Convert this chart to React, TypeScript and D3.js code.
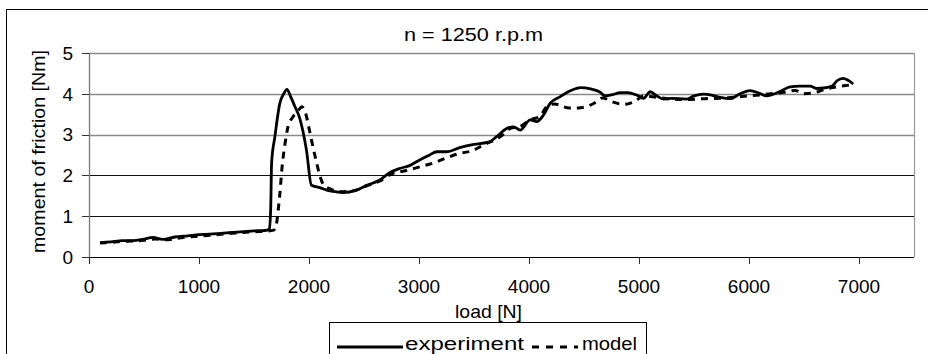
import React from "react";
import * as d3 from "d3";

const expLoad = [100,200,300,400,500,580,670,780,900,1000,1100,1200,1300,1400,1500,1600,1640,1652,1660,1690,1735,1770,1800,1830,1870,1916,1977,2022,2100,2160,2240,2310,2430,2520,2640,2730,2825,2915,3006,3097,3160,3250,3370,3500,3640,3705,3797,3860,3920,4011,4070,4132,4193,4284,4380,4470,4560,4640,4693,4760,4829,4900,4977,5041,5102,5160,5222,5300,5430,5500,5586,5660,5740,5828,5920,6010,6090,6158,6276,6373,6460,6555,6615,6700,6760,6800,6857,6900,6948];
const expMoment = [0.35,0.37,0.40,0.40,0.44,0.48,0.43,0.49,0.52,0.55,0.56,0.58,0.60,0.62,0.64,0.65,0.68,1.20,2.30,2.95,3.77,4.00,4.11,3.95,3.70,3.40,2.62,1.76,1.70,1.64,1.60,1.58,1.64,1.75,1.88,2.06,2.17,2.24,2.38,2.50,2.58,2.58,2.68,2.76,2.82,2.95,3.15,3.19,3.11,3.36,3.32,3.48,3.77,3.93,4.08,4.15,4.12,4.05,3.95,3.98,4.03,4.03,3.97,3.89,4.05,3.95,3.87,3.89,3.87,3.95,3.99,3.97,3.91,3.88,4.00,4.08,4.02,3.95,4.05,4.17,4.19,4.19,4.13,4.15,4.20,4.32,4.38,4.33,4.24];

const modelLoad = [100,200,300,400,500,600,700,800,900,1000,1100,1200,1300,1400,1500,1600,1680,1700,1718,1735,1755,1780,1810,1850,1900,1935,1965,2007,2040,2070,2100,2130,2200,2300,2400,2520,2640,2762,2885,3006,3127,3279,3370,3480,3590,3740,3830,3920,4010,4100,4160,4230,4370,4470,4580,4670,4760,4860,4950,5050,5150,5250,5400,5600,5800,6000,6200,6320,6420,6500,6600,6700,6800,6930];
const modelMoment = [0.34,0.36,0.38,0.39,0.41,0.44,0.42,0.46,0.49,0.51,0.53,0.56,0.58,0.60,0.62,0.63,0.66,0.75,1.10,1.55,2.20,2.74,3.20,3.42,3.58,3.68,3.56,3.07,2.65,2.30,1.98,1.78,1.66,1.60,1.62,1.74,1.86,2.05,2.12,2.21,2.30,2.46,2.54,2.60,2.75,2.95,3.15,3.20,3.36,3.45,3.68,3.75,3.65,3.66,3.75,3.90,3.80,3.74,3.80,3.95,3.92,3.88,3.86,3.88,3.90,3.95,4.00,4.04,4.08,4.00,4.03,4.12,4.17,4.22];

const xTicks = [0,1000,2000,3000,4000,5000,6000,7000];
const yTicks = [0,1,2,3,4,5];
const title = "n = 1250 r.p.m";
const xLabel = "load [N]";
const yLabel = "moment of friction [Nm]";
const seriesNames = ["experiment", "model"];

const FONT = "'Liberation Sans', Arial, Helvetica, sans-serif";

export default function App() {
  const x = d3.scaleLinear().domain([0, 7500]).range([89, 914]);
  const y = d3.scaleLinear().domain([0, 5]).range([257, 53]);
  const line = d3
    .line<[number, number]>()
    .x((d) => x(d[0]))
    .y((d) => y(d[1]))
    .curve(d3.curveMonotoneX);
  const expData: [number, number][] = expLoad.map((l, i) => [l, expMoment[i]]);
  const modelData: [number, number][] = modelLoad.map((l, i) => [l, modelMoment[i]]);

  return (
    <svg
      width={928}
      height={354}
      style={{ position: "absolute", left: 0, top: 0, background: "#fff" }}
      fontFamily={FONT}
    >
      <rect x={0} y={0} width={928} height={354} fill="#fff" />
      {/* outer chart border */}
      <rect x={6.5} y={9.5} width={940} height={360} fill="none" stroke="#000" strokeWidth={1} />
      <text x={473.5} y={41} fontSize={18} textAnchor="middle" textLength={139} lengthAdjust="spacingAndGlyphs">
        {title}
      </text>
      {/* gridlines */}
      {yTicks.filter((v) => v > 0).map((v) => (
        <line
          key={"g" + v}
          x1={x(0)}
          x2={x(7500)}
          y1={Math.round(y(v)) + 0.5}
          y2={Math.round(y(v)) + 0.5}
          stroke={v >= 3 ? "#8a8a8a" : "#111"}
          strokeWidth={v >= 3 ? 1.4 : 1}
        />
      ))}
      {/* right border */}
      <line x1={914.5} x2={914.5} y1={y(5)} y2={y(0)} stroke="#999" strokeWidth={1.2} />
      {/* y axis */}
      <line x1={89.5} x2={89.5} y1={y(5)} y2={y(0) + 6} stroke="#777" strokeWidth={1.3} />
      {yTicks.map((v) => (
        <g key={"yt" + v}>
          <line x1={82} x2={89} y1={Math.round(y(v)) + 0.5} y2={Math.round(y(v)) + 0.5} stroke="#333" strokeWidth={1} />
          <text x={73} y={y(v) + 6.7} fontSize={19} textAnchor="end">
            {v}
          </text>
        </g>
      ))}
      {/* x axis */}
      <line x1={89} x2={914} y1={257.5} y2={257.5} stroke="#000" strokeWidth={1} />
      {xTicks.map((v) => (
        <g key={"xt" + v}>
          <line x1={Math.round(x(v)) + 0.5} x2={Math.round(x(v)) + 0.5} y1={257} y2={264} stroke="#333" strokeWidth={1} />
          <text x={x(v)} y={292.5} fontSize={19} textAnchor="middle">
            {v}
          </text>
        </g>
      ))}
      <text x={488.5} y={317.5} fontSize={19} textAnchor="middle" textLength={67} lengthAdjust="spacingAndGlyphs">
        {xLabel}
      </text>
      <text
        transform="translate(44.5,151.5) rotate(-90)"
        fontSize={18}
        textAnchor="middle"
        textLength={203}
        lengthAdjust="spacingAndGlyphs"
      >
        {yLabel}
      </text>
      {/* series */}
      <path d={line(modelData) || ""} fill="none" stroke="#000" strokeWidth={3} strokeDasharray="7,6" />
      <path d={line(expData) || ""} fill="none" stroke="#000" strokeWidth={2.8} strokeLinejoin="round" />
      {/* legend */}
      <rect x={329.5} y={322.5} width={317} height={40} fill="#fff" stroke="#000" strokeWidth={1} />
      <line x1={337} x2={403} y1={347} y2={347} stroke="#000" strokeWidth={3} />
      <text x={405} y={350} fontSize={18} textLength={119} lengthAdjust="spacingAndGlyphs">
        {seriesNames[0]}
      </text>
      <line x1={532} x2={578} y1={347} y2={347} stroke="#000" strokeWidth={3} strokeDasharray="7,7" />
      <text x={582} y={350} fontSize={18} textLength={55} lengthAdjust="spacingAndGlyphs">
        {seriesNames[1]}
      </text>
    </svg>
  );
}
